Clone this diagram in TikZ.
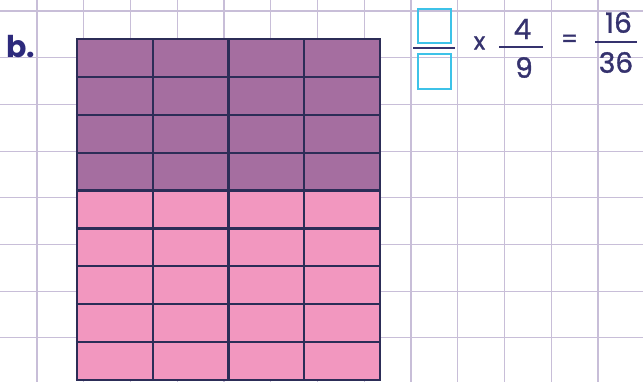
\documentclass[tikz,border=0pt]{standalone}
\usepackage{fontspec}
\setmainfont{Poppins}
\newfontfamily\numfont[FakeBold=1.2]{Poppins}
\definecolor{gridc}{HTML}{C8BED8}
\definecolor{purp}{HTML}{A56EA0}
\definecolor{pinkc}{HTML}{F297BF}
\definecolor{edgec}{HTML}{2C2D57}
\definecolor{navy}{HTML}{35326E}
\definecolor{lblc}{HTML}{2D2A7C}
\definecolor{cyanc}{HTML}{3EC2E8}
\tikzset{
  gridline/.style={draw=gridc, line width=1.1pt},
  cellline/.style={draw=edgec, line width=2.3pt},
  numtext/.style={text=navy, inner sep=0pt, font=\numfont\fontsize{28}{30}\selectfont},
  symtext/.style={text=navy, inner sep=0pt, font=\numfont\fontsize{24}{26}\selectfont},
  barline/.style={draw=navy, line width=2.2pt},
  answerbox/.style={draw=cyanc, line width=2.6pt},
}
\begin{document}
\begin{tikzpicture}[x=1pt,y=-1pt]
\useasboundingbox[fill=white] (0,0) rectangle (643,382);
% background grid
\foreach \i in {0,...,12} \draw[gridline] ({37+46.75*\i},0) -- ({37+46.75*\i},382);
\foreach \j in {0,...,7} \draw[gridline] (0,{11+46.7*\j}) -- (643,{11+46.7*\j});
% area model
\fill[purp] (77,39) rectangle (380,{39+4*37.89});
\fill[pinkc] (77,{39+4*37.89}) rectangle (380,380);
\foreach \c in {0,...,4} \draw[cellline] ({77+75.75*\c},39) -- ({77+75.75*\c},380);
\foreach \r in {0,...,9} \draw[cellline] (75.85,{39+37.89*\r}) -- (381.15,{39+37.89*\r});
% label
\node[text=lblc, inner sep=0pt, font=\fontsize{30}{32}\selectfont\bfseries] (lbl) at (20.5,47) {b.};
% first fraction: answer boxes
\draw[answerbox] (418,9) rectangle (451,43);
\draw[answerbox] (418,54) rectangle (451,89);
\coordinate (b1l) at (413,48);
\coordinate (b1r) at (455,48);
\draw[barline] (b1l) -- (b1r);
% times
\node[symtext] (times) at (479.5,43) {x};
% 4/9
\node[numtext] (n4) at (522.5,29) {4};
\node[numtext] (n9) at (524,67.5) {9};
\coordinate (b2l) at (499,47);
\coordinate (b2r) at (543,47);
\draw[barline] (b2l) -- (b2r);
% equals
\node[symtext] (eq) at (569.5,41) {=};
% 16/36
\node[numtext] (n16) at (618.5,22.5) {16};
\node[numtext] (n36) at (616,62.5) {36};
\coordinate (b3l) at (595,42);
\coordinate (b3r) at (637,42);
\draw[barline] (b3l) -- (b3r);
\end{tikzpicture}
\end{document}
